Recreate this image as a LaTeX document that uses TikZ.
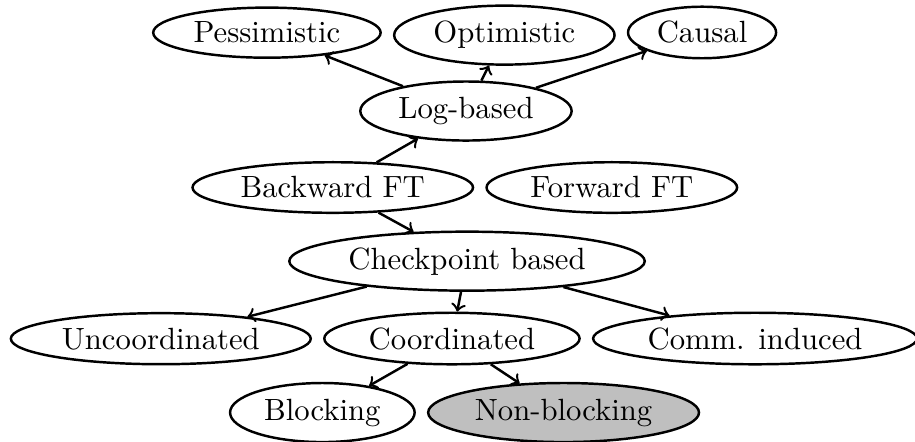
\documentclass[tikz,border=0pt]{standalone}
\usepackage{tikz}
\usetikzlibrary{positioning, shapes.geometric}

\begin{document}
\begin{tikzpicture}[
        node distance=3.6pt,
        oval/.style={draw, ellipse, inner sep=2.3pt, thick},
        picked/.style={oval, fill=black!25}
    ]
    \useasboundingbox (0,0) rectangle (10.476,-5.060);

    \node[oval, anchor=base west] (pessimistic) at (1.74,-0.492) {Pessimistic};
    \node[oval, base right=of pessimistic] (optimistic) {Optimistic};
    \node[oval, base right=of optimistic] (causal) {Causal};

    \node[oval, anchor=base] (logbased) at (5.335,-1.357) {Log-based};

    \node[oval, anchor=base west] (backward) at (2.19,-2.267) {Backward FT};
    \node[oval, base right=of backward] (forward) {Forward FT};

    \node[oval, anchor=base] (checkpoint) at (5.347,-3.080) {Checkpoint based};

    \node[oval, anchor=base west] (uncoord) at (0.11,-3.996) {Uncoordinated};
    \node[oval, base right=of uncoord] (coord) {Coordinated};
    \node[oval, base right=of coord] (comm) {Comm. induced};

    \node[oval, anchor=base west] (blocking) at (2.62,-4.809) {Blocking};
    \node[picked, base right=of blocking] (nonblocking) {Non-blocking};

    \draw[->, thick] (logbased) -- (pessimistic);
    \draw[->, thick] (logbased) -- (optimistic);
    \draw[->, thick] (logbased) -- (causal);

    \draw[->, thick] (backward) -- (logbased);
    \draw[->, thick] (backward) -- (checkpoint);

    \draw[->, thick] (checkpoint) -- (uncoord);
    \draw[->, thick] (checkpoint) -- (coord);
    \draw[->, thick] (checkpoint) -- (comm);

    \draw[->, thick] (coord) -- (blocking);
    \draw[->, thick] (coord) -- (nonblocking);

\end{tikzpicture}
\end{document}
